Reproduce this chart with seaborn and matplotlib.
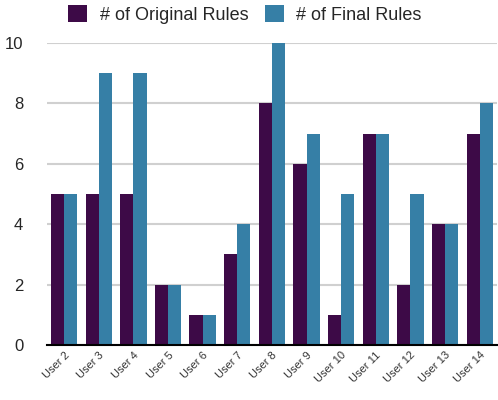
import matplotlib
matplotlib.use("Agg")
import matplotlib.pyplot as plt
import seaborn as sns
import pandas as pd

users = ["User 2", "User 3", "User 4", "User 5", "User 6", "User 7", "User 8",
         "User 9", "User 10", "User 11", "User 12", "User 13", "User 14"]
original_rules = [5, 5, 5, 2, 1, 3, 8, 6, 1, 7, 2, 4, 7]
final_rules = [5, 9, 9, 2, 1, 4, 10, 7, 5, 7, 5, 4, 8]
series_names = ["# of Original Rules", "# of Final Rules"]
colors = ["#3d0a47", "#367fa6"]

df = pd.DataFrame({
    "user": users * 2,
    "value": original_rules + final_rules,
    "series": [series_names[0]] * len(users) + [series_names[1]] * len(users),
})

sns.set_style("white")
plt.rcParams['font.family'] = ['Liberation Sans', 'DejaVu Sans']

fig = plt.figure(figsize=(4.98, 4.00), dpi=100)
ax = fig.add_axes([0.094, 0.1375, 0.904, 0.755])

sns.barplot(data=df, x="user", y="value", hue="series", palette=colors,
            width=0.76, gap=0, ax=ax, saturation=1, edgecolor="none", linewidth=0)

ax.set_xlim(-0.5, len(users) - 0.5)
ax.set_ylim(0, 10)
ax.set_yticks([0, 2, 4, 6, 8, 10])
ax.yaxis.grid(True, color="#d0d0d0", linewidth=1.5)
ax.set_axisbelow(True)
for s in ["left", "right", "top"]:
    ax.spines[s].set_visible(False)
ax.spines["bottom"].set_color("black")
ax.spines["bottom"].set_linewidth(1.5)
ax.tick_params(axis="both", length=0)
ax.tick_params(axis="y", labelsize=12, pad=17)
ax.set_xlabel("")
ax.set_ylabel("")
plt.setp(ax.get_xticklabels(), rotation=45, ha="right", rotation_mode="anchor",
         fontsize=8, color="#333333")

handles, labels = ax.get_legend_handles_labels()
ax.legend(handles, labels, loc="lower center", bbox_to_anchor=(0.44, 1.01),
          ncol=2, frameon=False, fontsize=13, handlelength=1.05, handleheight=1.05,
          columnspacing=0.9, handletextpad=0.7)

fig.savefig("out.png", dpi=100)
